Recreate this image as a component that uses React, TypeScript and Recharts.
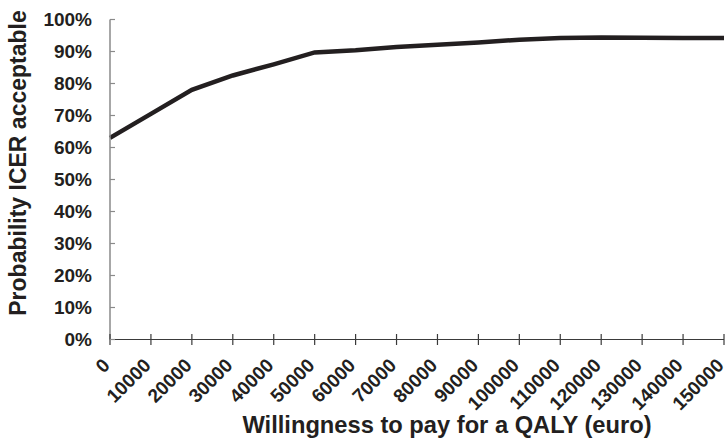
import React from "react";
import { LineChart, Line, XAxis, YAxis, Label } from "recharts";

const wtp = [0, 10000, 20000, 30000, 40000, 50000, 60000, 70000, 80000, 90000, 100000, 110000, 120000, 130000, 140000, 150000];
const probability = [63, 70.5, 78, 82.5, 86, 89.7, 90.4, 91.4, 92.1, 92.8, 93.7, 94.2, 94.4, 94.3, 94.2, 94.2];
const yTicks = [0, 10, 20, 30, 40, 50, 60, 70, 80, 90, 100];

const data = wtp.map((x, i) => ({ x, y: probability[i] }));

const FONT = "'Liberation Sans', Arial, sans-serif";
const INK = "#231f20";

function XTick({ x, y, payload }: any) {
  return (
    <g>
      <line x1={x} x2={x} y1={y - 5.5} y2={y + 5.5} stroke="#3a3a3a" strokeWidth={1.2} />
      <text
        x={x + 1}
        y={y + 27}
        transform={`rotate(-45 ${x + 1} ${y + 27})`}
        textAnchor="end"
        fontFamily={FONT}
        fontWeight="bold"
        fontSize={19}
        fill={INK}
      >
        {payload.value}
      </text>
    </g>
  );
}

function YTick({ x, y, payload }: any) {
  return (
    <g>
      <line x1={x + 18} x2={x + 23} y1={y} y2={y} stroke="#8a8a8a" strokeWidth={1.2} />
      <text x={x} y={y} dy="0.36em" textAnchor="end" fontFamily={FONT} fontWeight="bold" fontSize={19} fill={INK}>
        {payload.value}%
      </text>
    </g>
  );
}

export default function App() {
  return (
    <div style={{ position: "absolute", left: 0, top: 0, width: 728, height: 440, background: "#fff" }}>
      <LineChart width={728} height={440} data={data} margin={{ top: 19.5, right: 4, left: 0, bottom: 20.5 }}>
        <XAxis
          type="number"
          dataKey="x"
          domain={[0, 150000]}
          ticks={wtp}
          interval={0}
          height={80}
          tickSize={0}
          tickMargin={0}
          tick={<XTick />}
          axisLine={{ stroke: "#3a3a3a", strokeWidth: 1.2 }}
          tickLine={false}
        >
          <Label
            content={() => (
              <text x={447} y={433} textAnchor="middle" fontFamily={FONT} fontWeight="bold" fontSize={23.7} fill={INK}>
                Willingness to pay for a QALY (euro)
              </text>
            )}
          />
        </XAxis>
        <YAxis
          type="number"
          domain={[0, 100]}
          ticks={yTicks}
          interval={0}
          width={110}
          tickSize={0}
          tickMargin={18}
          tick={<YTick />}
          axisLine={{ stroke: "#8a8a8a", strokeWidth: 1.5 }}
          tickLine={false}
        >
          <Label
            content={() => (
              <text
                x={25.5}
                y={163}
                transform="rotate(-90 25.5 163)"
                textAnchor="middle"
                fontFamily={FONT}
                fontWeight="bold"
                fontSize={23}
                fill={INK}
              >
                Probability ICER acceptable
              </text>
            )}
          />
        </YAxis>
        <Line
          type="linear"
          dataKey="y"
          stroke={INK}
          strokeWidth={4.5}
          dot={false}
          isAnimationActive={false}
        />
      </LineChart>
    </div>
  );
}
